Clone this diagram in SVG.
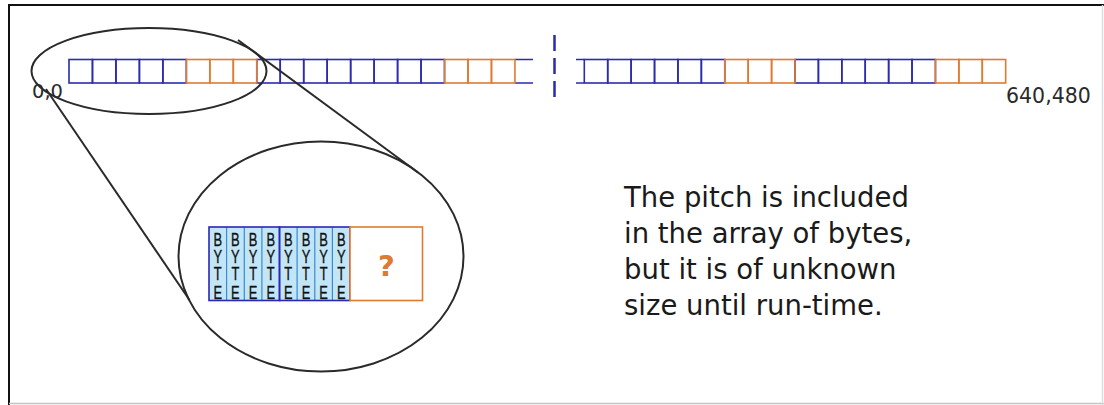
<svg xmlns="http://www.w3.org/2000/svg" width="1104" height="405" viewBox="0 0 1104 405">
<style>
.b{fill:none;stroke:#2b2bb0;stroke-width:1.6}
.o{fill:none;stroke:#e07a30;stroke-width:1.6}
.ell{fill:none;stroke:#2a2a2a;stroke-width:2}
.conn{stroke:#2a2a2a;stroke-width:2;fill:none}
.lbl{font-family:"DejaVu Sans",Verdana,sans-serif;fill:#2a2a2a}
.cap{font-family:"DejaVu Sans",Verdana,sans-serif;font-size:27.5px;fill:#1a1a1a}
.byte{font-family:"Liberation Sans",Arial,sans-serif;font-size:19px;fill:#111;stroke:#111;stroke-width:0.35;text-anchor:middle}
</style>
<rect x="0" y="0" width="1104" height="405" fill="#ffffff"/>
<g id="frame">
<path d="M8 5H1104" stroke="#111" stroke-width="2"/>
<path d="M9 4V405" stroke="#111" stroke-width="2"/>
<path d="M9 403.5H1104" stroke="#c4c4c4" stroke-width="1.5"/>
<path d="M1102.5 5V405" stroke="#dddddd" stroke-width="1.5"/>
</g>
<g id="row-left">
<rect class="b" x="69" y="59.5" width="23.47" height="23.5"/>
<rect class="b" x="92.47" y="59.5" width="23.47" height="23.5"/>
<rect class="b" x="115.94" y="59.5" width="23.47" height="23.5"/>
<rect class="b" x="139.41" y="59.5" width="23.47" height="23.5"/>
<rect class="b" x="162.88" y="59.5" width="23.47" height="23.5"/>
<rect class="b" x="256.76" y="59.5" width="23.47" height="23.5"/>
<rect class="b" x="280.23" y="59.5" width="23.47" height="23.5"/>
<rect class="b" x="303.7" y="59.5" width="23.47" height="23.5"/>
<rect class="b" x="327.17" y="59.5" width="23.47" height="23.5"/>
<rect class="b" x="350.64" y="59.5" width="23.47" height="23.5"/>
<rect class="b" x="374.11" y="59.5" width="23.47" height="23.5"/>
<rect class="b" x="397.58" y="59.5" width="23.47" height="23.5"/>
<rect class="b" x="421.05" y="59.5" width="23.47" height="23.5"/>
<path class="b" d="M514.93 59.5H533M514.93 83H533"/>
<rect class="o" x="186.35" y="59.5" width="23.47" height="23.5"/>
<rect class="o" x="209.82" y="59.5" width="23.47" height="23.5"/>
<rect class="o" x="233.29" y="59.5" width="23.47" height="23.5"/>
<rect class="o" x="444.52" y="59.5" width="23.47" height="23.5"/>
<rect class="o" x="467.99" y="59.5" width="23.47" height="23.5"/>
<rect class="o" x="491.46" y="59.5" width="23.47" height="23.5"/>
</g>
<g id="break">
<path d="M554.5 35V100" stroke="#2b2bb0" stroke-width="2.5" stroke-dasharray="16 7" fill="none"/>
</g>
<g id="row-right">
<path class="b" d="M576 59.5H584.3M576 83H584.3"/>
<rect class="b" x="584.3" y="59.5" width="23.41" height="23.5"/>
<rect class="b" x="607.71" y="59.5" width="23.41" height="23.5"/>
<rect class="b" x="631.12" y="59.5" width="23.41" height="23.5"/>
<rect class="b" x="654.53" y="59.5" width="23.41" height="23.5"/>
<rect class="b" x="677.94" y="59.5" width="23.41" height="23.5"/>
<rect class="b" x="701.35" y="59.5" width="23.41" height="23.5"/>
<rect class="b" x="794.99" y="59.5" width="23.41" height="23.5"/>
<rect class="b" x="818.4" y="59.5" width="23.41" height="23.5"/>
<rect class="b" x="841.81" y="59.5" width="23.41" height="23.5"/>
<rect class="b" x="865.22" y="59.5" width="23.41" height="23.5"/>
<rect class="b" x="888.63" y="59.5" width="23.41" height="23.5"/>
<rect class="b" x="912.04" y="59.5" width="23.41" height="23.5"/>
<rect class="o" x="724.76" y="59.5" width="23.41" height="23.5"/>
<rect class="o" x="748.17" y="59.5" width="23.41" height="23.5"/>
<rect class="o" x="771.58" y="59.5" width="23.41" height="23.5"/>
<rect class="o" x="935.45" y="59.5" width="23.41" height="23.5"/>
<rect class="o" x="958.86" y="59.5" width="23.41" height="23.5"/>
<rect class="o" x="982.27" y="59.5" width="23.41" height="23.5"/>
</g>
<g id="label-origin"><text class="lbl" x="32" y="98" font-size="19.5">0,0</text></g>
<g id="label-end"><text class="lbl" x="1006" y="103" font-size="20.5">640,480</text></g>
<g id="zoom-ellipse"><ellipse class="ell" cx="149" cy="71" rx="117.5" ry="43"/></g>
<g id="detail-ellipse"><ellipse class="ell" cx="321" cy="256.5" rx="142.5" ry="115"/></g>
<g id="connectors">
<path class="conn" d="M46 89L189.5 300"/>
<path class="conn" d="M238 40L418 172.5"/>
</g>
<g id="byte-block">
<rect x="209" y="227" width="141" height="73.5" fill="#c3e6f7"/>
<path d="M226.6 227V300.5M244.3 227V300.5M261.9 227V300.5M297.1 227V300.5M314.8 227V300.5M332.4 227V300.5" stroke="#3a8ad8" stroke-width="1.2" fill="none"/>
<g transform="scale(0.68 1)">
<text class="byte" x="320.3 346.2 372.2 398.1 424 450 475.9 501.8" y="246.5">BBBBBBBB</text>
<text class="byte" x="320.3 346.2 372.2 398.1 424 450 475.9 501.8" y="263.5">YYYYYYYY</text>
<text class="byte" x="320.3 346.2 372.2 398.1 424 450 475.9 501.8" y="280.5">TTTTTTTT</text>
<text class="byte" x="320.3 346.2 372.2 398.1 424 450 475.9 501.8" y="299">EEEEEEEE</text>
</g>
<rect x="209" y="227" width="70.5" height="73.5" fill="none" stroke="#2828b8" stroke-width="1.6"/>
<rect x="279.5" y="227" width="70.5" height="73.5" fill="none" stroke="#2828b8" stroke-width="1.6"/>
</g>
<g id="pitch-box">
<rect x="350" y="227" width="72.5" height="73.5" fill="#ffffff" stroke="#e07a30" stroke-width="1.6"/>
<text x="386.5" y="276" font-family="'DejaVu Sans',Verdana,sans-serif" font-weight="bold" font-size="29" fill="#e07a30" text-anchor="middle">?</text>
</g>
<g id="caption">
<text class="cap" x="624" y="206.5">The pitch is included</text>
<text class="cap" x="624" y="242.5">in the array of bytes,</text>
<text class="cap" x="624" y="278.5">but it is of unknown</text>
<text class="cap" x="624" y="314.5">size until run-time.</text>
</g>
</svg>
